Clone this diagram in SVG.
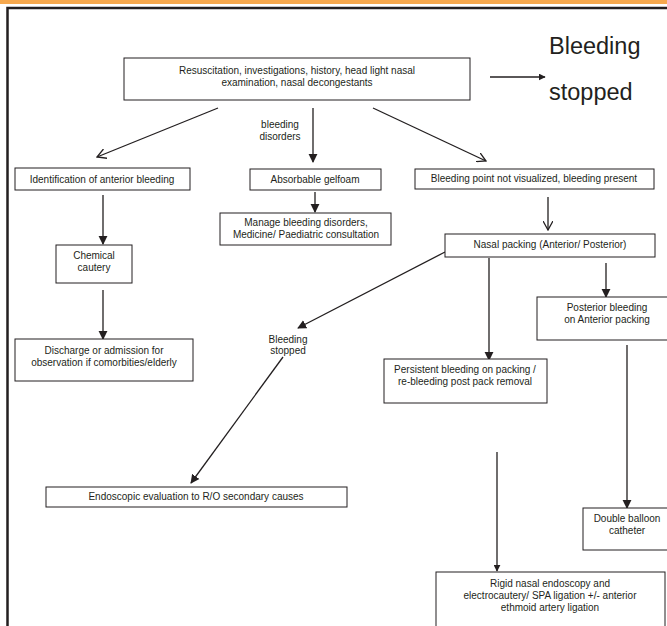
<svg xmlns="http://www.w3.org/2000/svg" width="667" height="626" viewBox="0 0 667 626">
<style>
.box{fill:#fff;stroke:#231f20;stroke-width:1}
.t{font-family:"Liberation Sans",Arial,sans-serif;font-size:10px;fill:#231f20;text-anchor:middle}
.big{font-family:"Liberation Sans",Arial,sans-serif;font-size:23.5px;fill:#231f20}
.ln{fill:none;stroke:#231f20;stroke-width:1.3}
</style>
<defs>
<marker id="fill" viewBox="0 0 10 10" refX="9" refY="5" markerWidth="7" markerHeight="7" markerUnits="userSpaceOnUse" orient="auto">
<path d="M0,0 L10,5 L0,10 Z" fill="#231f20"/>
</marker>
<marker id="fillb" viewBox="0 0 10 10" refX="9" refY="5" markerWidth="9" markerHeight="10" markerUnits="userSpaceOnUse" orient="auto">
<path d="M0,0 L10,5 L0,10 Z" fill="#231f20"/>
</marker>
<marker id="open" viewBox="0 0 10 10" refX="9" refY="5" markerWidth="10" markerHeight="10" markerUnits="userSpaceOnUse" orient="auto">
<path d="M0,0 L9,5 L0,10" fill="none" stroke="#231f20" stroke-width="1.3"/>
</marker>
</defs>
<rect x="0" y="0" width="667" height="4" fill="#f6a84e"/>
<path d="M7.5,626 V8 H667" fill="none" stroke="#231f20" stroke-width="2.5"/>

<g id="connectors">
<line class="ln" x1="490" y1="77" x2="545" y2="77" marker-end="url(#fill)"/>
<line class="ln" x1="218" y1="108" x2="97" y2="157" marker-end="url(#open)"/>
<line class="ln" x1="313" y1="108" x2="313" y2="162" marker-end="url(#fillb)"/>
<line class="ln" x1="373" y1="108" x2="486" y2="161" marker-end="url(#open)"/>
<line class="ln" x1="103" y1="195" x2="103" y2="244" marker-end="url(#fillb)"/>
<line class="ln" x1="103" y1="290" x2="103" y2="339" marker-end="url(#fillb)"/>
<line class="ln" x1="315" y1="192" x2="315" y2="212" marker-end="url(#fillb)"/>
<line class="ln" x1="548" y1="197" x2="548" y2="230" marker-end="url(#open)"/>
<line class="ln" x1="445" y1="252" x2="298" y2="328" marker-end="url(#fillb)"/>
<line class="ln" x1="489" y1="258" x2="489" y2="360" marker-end="url(#fillb)"/>
<line class="ln" x1="606" y1="263" x2="606" y2="297" marker-end="url(#fillb)"/>
<line class="ln" x1="283" y1="357" x2="191" y2="483" marker-end="url(#fillb)"/>
<line class="ln" x1="627" y1="345" x2="627" y2="508" marker-end="url(#fillb)"/>
<line class="ln" x1="497" y1="452" x2="497" y2="571" marker-end="url(#fill)"/>
</g>

<g id="n-start">
<rect class="box" x="124" y="58" width="346" height="42"/>
<text class="t" x="297" y="74">Resuscitation, investigations, history, head light nasal</text>
<text class="t" x="297" y="86">examination, nasal decongestants</text>
</g>
<g id="n-stopped-top">
<text class="big" x="549" y="54">Bleeding</text>
<text class="big" x="549" y="100">stopped</text>
</g>
<g id="n-disorders-label">
<text class="t" x="280" y="128">bleeding</text>
<text class="t" x="280" y="140">disorders</text>
</g>
<g id="n-anterior">
<rect class="box" x="15" y="168" width="175" height="22"/>
<text class="t" x="102" y="183">Identification of anterior bleeding</text>
</g>
<g id="n-chemical">
<rect class="box" x="56" y="245" width="76" height="38"/>
<text class="t" x="94" y="259">Chemical</text>
<text class="t" x="94" y="271">cautery</text>
</g>
<g id="n-discharge">
<rect class="box" x="15" y="339" width="178" height="42"/>
<text class="t" x="104" y="354">Discharge or admission for</text>
<text class="t" x="104" y="366">observation if comorbities/elderly</text>
</g>
<g id="n-gelfoam">
<rect class="box" x="250" y="169" width="131" height="21"/>
<text class="t" x="315" y="183">Absorbable gelfoam</text>
</g>
<g id="n-manage">
<rect class="box" x="220" y="213" width="171" height="32"/>
<text class="t" x="306" y="226">Manage bleeding disorders,</text>
<text class="t" x="306" y="238">Medicine/ Paediatric consultation</text>
</g>
<g id="n-notvisual">
<rect class="box" x="415" y="169" width="239" height="20"/>
<text class="t" x="534" y="182">Bleeding point not visualized, bleeding present</text>
</g>
<g id="n-packing">
<rect class="box" x="445" y="234" width="210" height="23"/>
<text class="t" x="550" y="248">Nasal packing (Anterior/ Posterior)</text>
</g>
<g id="n-stopped">
<text class="t" x="288" y="343">Bleeding</text>
<text class="t" x="288" y="354">stopped</text>
</g>
<g id="n-posterior">
<rect class="box" x="537" y="297" width="132" height="43"/>
<text class="t" x="607" y="311">Posterior bleeding</text>
<text class="t" x="607" y="323">on Anterior packing</text>
</g>
<g id="n-persistent">
<rect class="box" x="384" y="359" width="163" height="44"/>
<text class="t" x="465" y="373">Persistent bleeding on packing /</text>
<text class="t" x="465" y="385">re-bleeding post pack removal</text>
</g>
<g id="n-endoscopic">
<rect class="box" x="46" y="487" width="301" height="20"/>
<text class="t" x="196" y="500">Endoscopic evaluation to R/O secondary causes</text>
</g>
<g id="n-balloon">
<rect class="box" x="583" y="508" width="85" height="42"/>
<text class="t" x="627" y="522">Double balloon</text>
<text class="t" x="627" y="534">catheter</text>
</g>
<g id="n-rigid">
<rect class="box" x="436" y="572" width="229" height="55"/>
<text class="t" x="550" y="587">Rigid nasal endoscopy and</text>
<text class="t" x="550" y="599">electrocautery/ SPA ligation +/- anterior</text>
<text class="t" x="550" y="611">ethmoid artery ligation</text>
</g>
</svg>
